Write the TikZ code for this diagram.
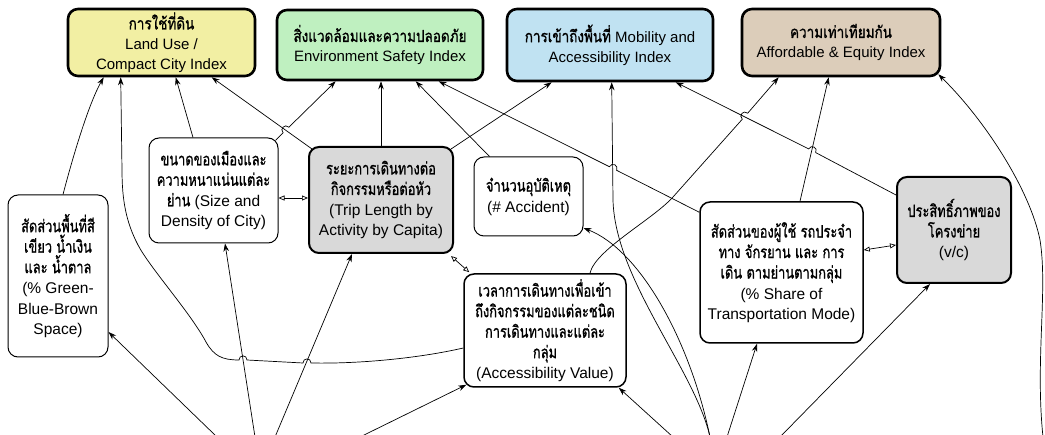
\documentclass[tikz,border=0pt]{standalone}
\usepackage{fontspec}
\usepackage{graphicx}
\setmainfont{Liberation Sans}
\newfontfamily\thaifont[Script=Thai,Scale=1.0,FakeBold=1.2]{Loma}
\usetikzlibrary{arrows.meta,calc}
\newcommand\tha[1]{\scalebox{0.83}[1.1]{\thaifont #1}}
\newcommand\thatop[1]{\scalebox{0.9}[1.1]{\thaifont #1}}
\definecolor{cyel}{HTML}{F2EFA3}
\definecolor{cgrn}{HTML}{BFF0C0}
\definecolor{cblu}{HTML}{C0E2F2}
\definecolor{cbrn}{HTML}{DCCDBA}
\definecolor{cgry}{HTML}{D9D9D9}
\begin{document}
\begin{tikzpicture}[x=1pt,y=-1pt,
  topbox/.style={draw=black,line width=2.6pt,rounded corners=10pt,align=center,inner sep=0pt,font=\fontsize{15}{20}\selectfont},
  midbox/.style={draw=black,line width=1pt,rounded corners=10pt,align=center,inner sep=0pt,fill=white,font=\fontsize{15.5}{20.5}\selectfont},
  keybox/.style={midbox,fill=cgry,line width=2pt},
  conn/.style={-{Stealth[length=8pt,width=5.5pt]},line width=0.7pt},
  dbl/.style={{Triangle[open,length=6pt,width=5pt]}-{Triangle[open,length=6pt,width=5pt]},line width=0.7pt}]
\useasboundingbox (0,0) rectangle (1045,435);
\fill[white] (0,0) rectangle (1045,435);
% top boxes
\node[topbox,fill=cyel,minimum width=187pt,minimum height=67pt] (lu) at (161.5,42.5) {\thatop{การใช้ที่ดิน}\\Land Use /\\Compact City Index};
\node[topbox,fill=cgrn,minimum width=206pt,minimum height=70pt] (env) at (380,45) {\thatop{สิ่งแวดล้อมและความปลอดภัย}\\Environment Safety Index};
\node[topbox,fill=cblu,minimum width=206pt,minimum height=72pt] (mob) at (610,45) {\thatop{การเข้าถึงพื้นที่} Mobility and\\Accessibility Index};
\node[topbox,fill=cbrn,minimum width=198pt,minimum height=67pt] (aff) at (841,42.5) {\thatop{ความเท่าเทียมกัน}\\Affordable \& Equity Index};
% middle boxes
\node[midbox,minimum width=100pt,minimum height=162pt] (gbb) at (58,276) {\tha{สัดส่วนพื้นที่สี}\\\tha{เขียว น้ำเงิน}\\\tha{และ น้ำตาล}\\(\% Green-\\Blue-Brown\\Space)};
\node[midbox,minimum width=129pt,minimum height=105pt] (sd) at (213.5,190.5) {\tha{ขนาดของเมืองและ}\\\tha{ความหนาแน่นแต่ละ}\\\tha{ย่าน} (Size and\\Density of City)};
\node[keybox,minimum width=144pt,minimum height=106pt] (tl) at (381,200) {\tha{ระยะการเดินทางต่อ}\\\tha{กิจกรรมหรือต่อหัว}\\(Trip Length by\\Activity by Capita)};
\node[midbox,minimum width=109pt,minimum height=79pt] (ac) at (528.5,196.5) {\tha{จำนวนอุบัติเหตุ}\\(\# Accident)};
\node[midbox,line width=1.5pt,minimum width=162pt,minimum height=113pt] (av) at (545,330.5) {\tha{เวลาการเดินทางเพื่อเข้า}\\\tha{ถึงกิจกรรมของแต่ละชนิด}\\\tha{การเดินทางและแต่ละ}\\\tha{กลุ่ม}\\(Accessibility Value)};
\node[midbox,line width=1.5pt,minimum width=163pt,minimum height=141pt] (sh) at (781.5,272.5) {\tha{สัดส่วนของผู้ใช้ รถประจำ}\\\tha{ทาง จักรยาน และ การ}\\\tha{เดิน ตามย่านตามกลุ่ม}\\(\% Share of\\Transportation Mode)};
\node[keybox,minimum width=114pt,minimum height=106pt] (vc) at (954,230) {\tha{ประสิทธิ์ภาพของ}\\\tha{โครงข่าย}\\(v/c)};
% free ends at the lower edge
\coordinate (b1) at (217,437);
\coordinate (b2) at (255,437);
\coordinate (b3) at (275,437);
\coordinate (b4) at (360,437);
\coordinate (b5) at (673,437);
\coordinate (b6) at (710,437);
\coordinate (b7) at (727,437);
\coordinate (b8) at (780,437);
\coordinate (b9) at (1043,437);
% connectors to Land Use
\draw[conn] ([xshift=5pt]gbb.north) .. controls (72,160) and (88,105) .. ([xshift=37pt]lu.south west);
\draw[conn] ([yshift=-17.5pt]av.west) .. controls (420,358) and (360,364) .. (311,363)
  .. controls (311,357.5) and (303,357.5) .. (303,363) -- (247,360)
  .. controls (247,354.5) and (239,354.5) .. (239,360)
  .. controls (222,360) and (214,356) .. (206,342)
  .. controls (190,312) and (150,268) .. (138,245)
  .. controls (126,222) and (122,200) .. (122,170) -- ([xshift=54pt]lu.south west);
\draw[conn] ([xshift=-20.5pt]sd.north) -- ([xshift=109pt]lu.south west);
\draw[conn] ([xshift=4pt,yshift=-3pt]tl.north west) -- ([xshift=145pt]lu.south west);
% connectors to Environment
\draw[conn] ([xshift=-3pt,yshift=-3pt]sd.north east) -- (283.1,132.8) .. controls (279.3,128.9) and (285.0,123.3) .. (288.9,127.2) -- ([xshift=60pt]env.south west);
\draw[conn] (tl.north) -- (tl.north |- env.south);
\draw[conn] ([xshift=16pt]ac.north west) -- ([xshift=140pt]env.south west);
\draw[conn] ([yshift=-11pt]sh.north west) -- (616.6,170.3) .. controls (619.1,165.4) and (611.9,161.8) .. (609.4,166.7) -- ([xshift=163pt]env.south west);
% connectors to Mobility
\draw[conn] ([xshift=-3pt,yshift=-3pt]tl.north east) -- ([xshift=46pt]mob.south west);
\draw[conn] (b6) .. controls (695,370) and (615,280) .. (613,200) -- ([xshift=106pt]mob.south west);
\draw[conn] ([yshift=35pt]vc.west) -- (815.7,152.6) .. controls (818.2,147.7) and (811.2,144.0) .. (808.7,148.9) -- ([xshift=170pt]mob.south west);
% connectors to Affordable
\draw[conn] ([xshift=45pt]av.north) .. controls (595,250) and (653,219.4) .. (673,197) -- (742.3,119.2) .. controls (738.2,115.5) and (743.6,109.5) .. (747.7,113.2) -- ([xshift=38pt]aff.south west);
\draw[conn] ([xshift=18.5pt]sh.north) -- ([xshift=88pt]aff.south west);
\draw[conn] (b9) .. controls (1035,360) and (1048,290) .. (1040,240) .. controls (1030,190) and (985,120) .. ([xshift=-3pt,yshift=3pt]aff.south east);
% connectors from below
\draw[conn] (b1) -- ([yshift=-56pt]gbb.east);
\draw[conn] (b2) -- ([xshift=11.5pt]sd.south);
\draw[conn] (b3) -- ([xshift=-29pt]tl.south);
\draw[conn] (b4) -- ([xshift=3pt,yshift=3pt]av.south west);
\draw[conn] (b5) -- ([xshift=-8pt]av.south east);
\draw[conn] (b7) -- ([xshift=-24.5pt]sh.south);
\draw[conn] (b8) -- ([xshift=-24pt]vc.south);
\draw[conn] (b6) .. controls (690,340) and (640,250) .. ([yshift=-31.5pt]ac.east);
% two-way links
\draw[dbl] ([yshift=-7.5pt]sd.east) -- ([yshift=-7.5pt]sd.east -| tl.west);
\draw[dbl] ([xshift=-3pt,yshift=-2pt]tl.south east) -- ([xshift=6pt,yshift=1pt]av.north west);
\draw[dbl] ([yshift=22.5pt]sh.east) -- ([yshift=-15pt]vc.west);
\end{tikzpicture}
\end{document}
